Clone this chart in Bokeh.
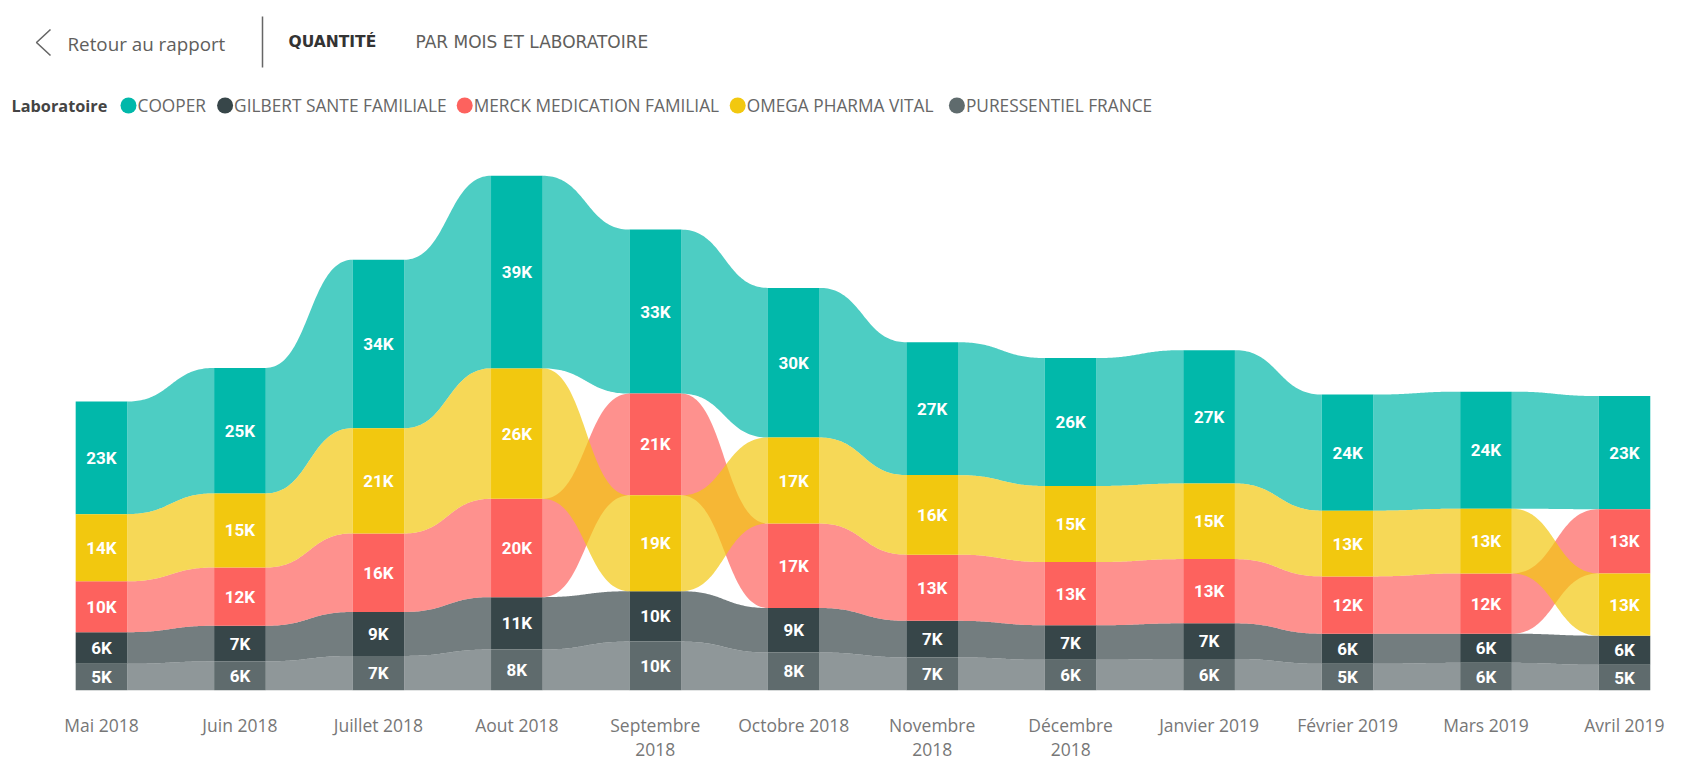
import numpy as np
from bokeh.plotting import figure
from bokeh.models import Range1d, FixedTicker, Label, ColumnDataSource
from bokeh.core.properties import value
from bokeh.embed import file_html
from bokeh.resources import INLINE

# ---------------- data ----------------
mois = ["Mai 2018", "Juin 2018", "Juillet 2018", "Aout 2018", "Septembre 2018",
        "Octobre 2018", "Novembre 2018", "Décembre 2018", "Janvier 2019",
        "Février 2019", "Mars 2019", "Avril 2019"]
tick_labels = ["Mai 2018", "Juin 2018", "Juillet 2018", "Aout 2018", "Septembre\n2018",
               "Octobre 2018", "Novembre\n2018", "Décembre\n2018", "Janvier 2019",
               "Février 2019", "Mars 2019", "Avril 2019"]
laboratoires = ["COOPER", "GILBERT SANTE FAMILIALE", "MERCK MEDICATION FAMILIAL",
                "OMEGA PHARMA VITAL", "PURESSENTIEL FRANCE"]
# quantities in thousands
cooper = [22.8, 25.4, 34.1, 39.0, 33.2, 30.3, 26.9, 25.9, 27.0, 23.5, 23.7, 22.9]
gilbert = [6.4, 7.2, 8.9, 10.6, 10.2, 9.0, 7.4, 7.0, 7.2, 6.1, 5.9, 5.9]
merck = [10.3, 11.8, 15.9, 19.9, 20.6, 17.1, 13.4, 12.8, 13.0, 11.6, 12.2, 13.0]
omega = [13.6, 15.0, 21.3, 26.4, 19.4, 17.4, 16.1, 15.4, 15.3, 13.3, 13.1, 12.6]
puressentiel = [5.4, 5.9, 7.0, 8.3, 9.9, 7.7, 6.7, 6.2, 6.4, 5.4, 5.6, 5.2]

# ---------------- styles / layout ----------------
bar_colors = ["#01B8AA", "#374649", "#FD625E", "#F2C80F", "#5F6B6D"]
W, H = 1685, 767
BASE_PY = 690          # baseline, px from top
PX_X = 138.45          # px per month
PX_Y = 4.94            # px per thousand
X0 = -101.0 / PX_X
x_start, x_end = X0, X0 + W / PX_X
y_end = BASE_PY / PX_Y
HW = 0.1865            # half bar width (data units)


def X(px):
    return x_start + px / PX_X


def Y(py):
    return (BASE_PY - py) / PX_Y


series = [cooper, gilbert, merck, omega, puressentiel]
vals = np.array(series, dtype=float)
ns, nm = vals.shape
bottoms = np.zeros_like(vals)
tops = np.zeros_like(vals)
for j in range(nm):
    y = 0.0
    for s in np.argsort(vals[:, j], kind="stable"):
        bottoms[s, j] = y
        y += vals[s, j]
        tops[s, j] = y

p = figure(width=W, height=H, output_backend="svg", toolbar_location=None,
           x_range=Range1d(x_start, x_end), y_range=Range1d(0, y_end),
           min_border_left=0, min_border_right=0, min_border_top=0,
           min_border_bottom=H - BASE_PY, y_axis_location=None)
p.background_fill_color = "white"
p.border_fill_color = "white"
p.outline_line_color = None
p.xgrid.visible = False
p.ygrid.visible = False

# ribbons
t = np.linspace(0, 1, 60)
fx = 1.5 * t * (1 - t) + t ** 3
fy = 3 * t ** 2 - 2 * t ** 3
rx, ry, rc = [], [], []
for s in range(ns):
    for j in range(nm - 1):
        x0, x1 = j + HW, j + 1 - HW
        xs = x0 + (x1 - x0) * fx
        top = tops[s, j] + (tops[s, j + 1] - tops[s, j]) * fy
        bot = bottoms[s, j] + (bottoms[s, j + 1] - bottoms[s, j]) * fy
        rx.append(list(xs) + list(xs[::-1]))
        ry.append(list(top) + list(bot[::-1]))
        rc.append(bar_colors[s])
p.patches(xs="xs", ys="ys", fill_color="c", fill_alpha=0.7, line_color=None,
          source=ColumnDataSource(dict(xs=rx, ys=ry, c=rc)))

# bars
bl, br, bb, bt, bc, lx, ly, lt = [], [], [], [], [], [], [], []
for s in range(ns):
    for j in range(nm):
        bl.append(j - HW)
        br.append(j + HW)
        bb.append(bottoms[s, j])
        bt.append(tops[s, j])
        bc.append(bar_colors[s])
        lx.append(j)
        ly.append((bottoms[s, j] + tops[s, j]) / 2)
        lt.append(f"{int(round(vals[s, j]))}K")
p.quad(left="l", right="r", bottom="b", top="t", fill_color="c", line_color=None,
       source=ColumnDataSource(dict(l=bl, r=br, b=bb, t=bt, c=bc)))
p.text(x="x", y="y", text="txt", text_color="white", text_align="center",
       text_baseline="middle", text_font=value("Roboto"), text_font_style="bold",
       text_font_size="17px", source=ColumnDataSource(dict(x=lx, y=ly, txt=lt)))

# x axis
ax = p.xaxis[0]
ax.ticker = FixedTicker(ticks=list(range(nm)))
ax.major_label_overrides = {i: lab for i, lab in enumerate(tick_labels)}
ax.axis_line_color = None
ax.major_tick_line_color = None
ax.minor_tick_line_color = None
ax.major_label_text_font = "Open Sans"
ax.major_label_text_font_size = "17.5px"
ax.major_label_text_color = "#777777"
ax.major_label_text_line_height = 1.0
ax.major_label_standoff = 16

# header
p.line(x=[X(50), X(36), X(50)], y=[Y(29), Y(42), Y(55)], line_color="#666666", line_width=1.6)
p.add_layout(Label(x=X(67), y=Y(43), text="Retour au rapport", text_font="Open Sans",
                   text_font_size="18.8px", text_color="#605E5C", text_baseline="middle"))
p.line(x=[X(262), X(262)], y=[Y(16), Y(67)], line_color="#666666", line_width=1.5)
p.add_layout(Label(x=X(288), y=Y(41), text="QUANTITÉ", text_font="DejaVu Sans",
                   text_font_style="bold", text_font_size="15.5px", text_color="#333333",
                   text_baseline="middle"))
p.add_layout(Label(x=X(415), y=Y(41), text="PAR MOIS ET LABORATOIRE", text_font="DejaVu Sans",
                   text_font_size="17px", text_color="#605E5C", text_baseline="middle"))

# legend
LEG_Y = 105
p.add_layout(Label(x=X(11), y=Y(LEG_Y), text="Laboratoire", text_font="Open Sans",
                   text_font_style="bold", text_font_size="16.3px", text_color="#444444",
                   text_baseline="middle"))
leg_circle_px = [128, 224.6, 464.2, 737.2, 956.4]
p.scatter(x=[X(v) for v in leg_circle_px], y=[Y(LEG_Y)] * ns, size=16,
          fill_color=bar_colors, line_color=None)
for i, name in enumerate(laboratoires):
    p.add_layout(Label(x=X(leg_circle_px[i] + 9), y=Y(LEG_Y), text=name, text_font="Open Sans",
                       text_font_size="17.3px", text_color="#666666", text_baseline="middle"))

open("out.html", "w").write(file_html(p, INLINE))
